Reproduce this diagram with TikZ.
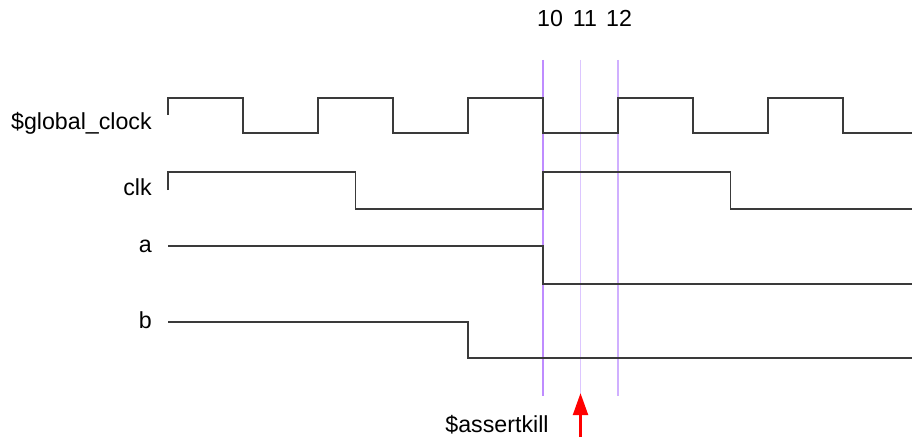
\documentclass[tikz,border=0pt]{standalone}
\usepackage{fontspec}
\setmainfont{Liberation Sans}
\usetikzlibrary{arrows.meta}
\definecolor{sig}{HTML}{3A3A3A}
\definecolor{markA}{HTML}{BF8CFF}
\definecolor{markB}{HTML}{DCC6FF}
\definecolor{markC}{HTML}{D0B0FF}
\tikzset{
  wave/.style={draw=sig, line width=1pt, line join=miter},
  marker/.style={line width=1.2pt},
  lbl/.style={anchor=base east, inner sep=0pt, font=\fontsize{17.4}{20}\selectfont},
  num/.style={anchor=base, inner sep=0pt, font=\fontsize{17.4}{20}\selectfont},
}
\begin{document}
\begin{tikzpicture}[x=0.75pt, y=-0.75pt]
\useasboundingbox (0,0) rectangle (912,442);
% labels
\node[lbl] (lgc) at (152,129) {\$global\_clock};
\node[lbl] (lclk) at (152,195) {clk};
\node[lbl] (la) at (152,252) {a};
\node[lbl] (lb) at (152,328) {b};
\node[num] (n10) at (550,27) {10};
\node[num] (n11) at (585,27) {11};
\node[num] (n12) at (619,27) {12};
\node[num] (ak) at (497,432) {\$assertkill};
% markers
\draw[marker, markA] (543,60) -- (543,396);
\draw[marker, markB] (580.5,60) -- (580.5,396);
\draw[marker, markC] (618,60) -- (618,396);
% waveforms
\draw[wave] (168,115) -- (168,98) -- (243,98) -- (243,133) -- (318,133) -- (318,98)
  -- (393,98) -- (393,133) -- (468,133) -- (468,98) -- (543,98) -- (543,133)
  -- (618,133) -- (618,98) -- (693,98) -- (693,133) -- (768,133) -- (768,98)
  -- (843,98) -- (843,133) -- (912,133);
\draw[wave] (168,190) -- (168,172) -- (355.5,172) -- (355.5,209) -- (543,209)
  -- (543,172) -- (730.5,172) -- (730.5,209) -- (912,209);
\draw[wave] (168,246) -- (543,246) -- (543,284) -- (912,284);
\draw[wave] (168,322) -- (468,322) -- (468,358) -- (912,358);
% arrow
\coordinate (abase) at (580.5,437);
\coordinate (atip) at (580.5,393);
\draw[red, line width=2.3pt, -{Triangle[width=11pt,length=16.5pt]}] (abase) -- (atip);
\end{tikzpicture}
\end{document}
